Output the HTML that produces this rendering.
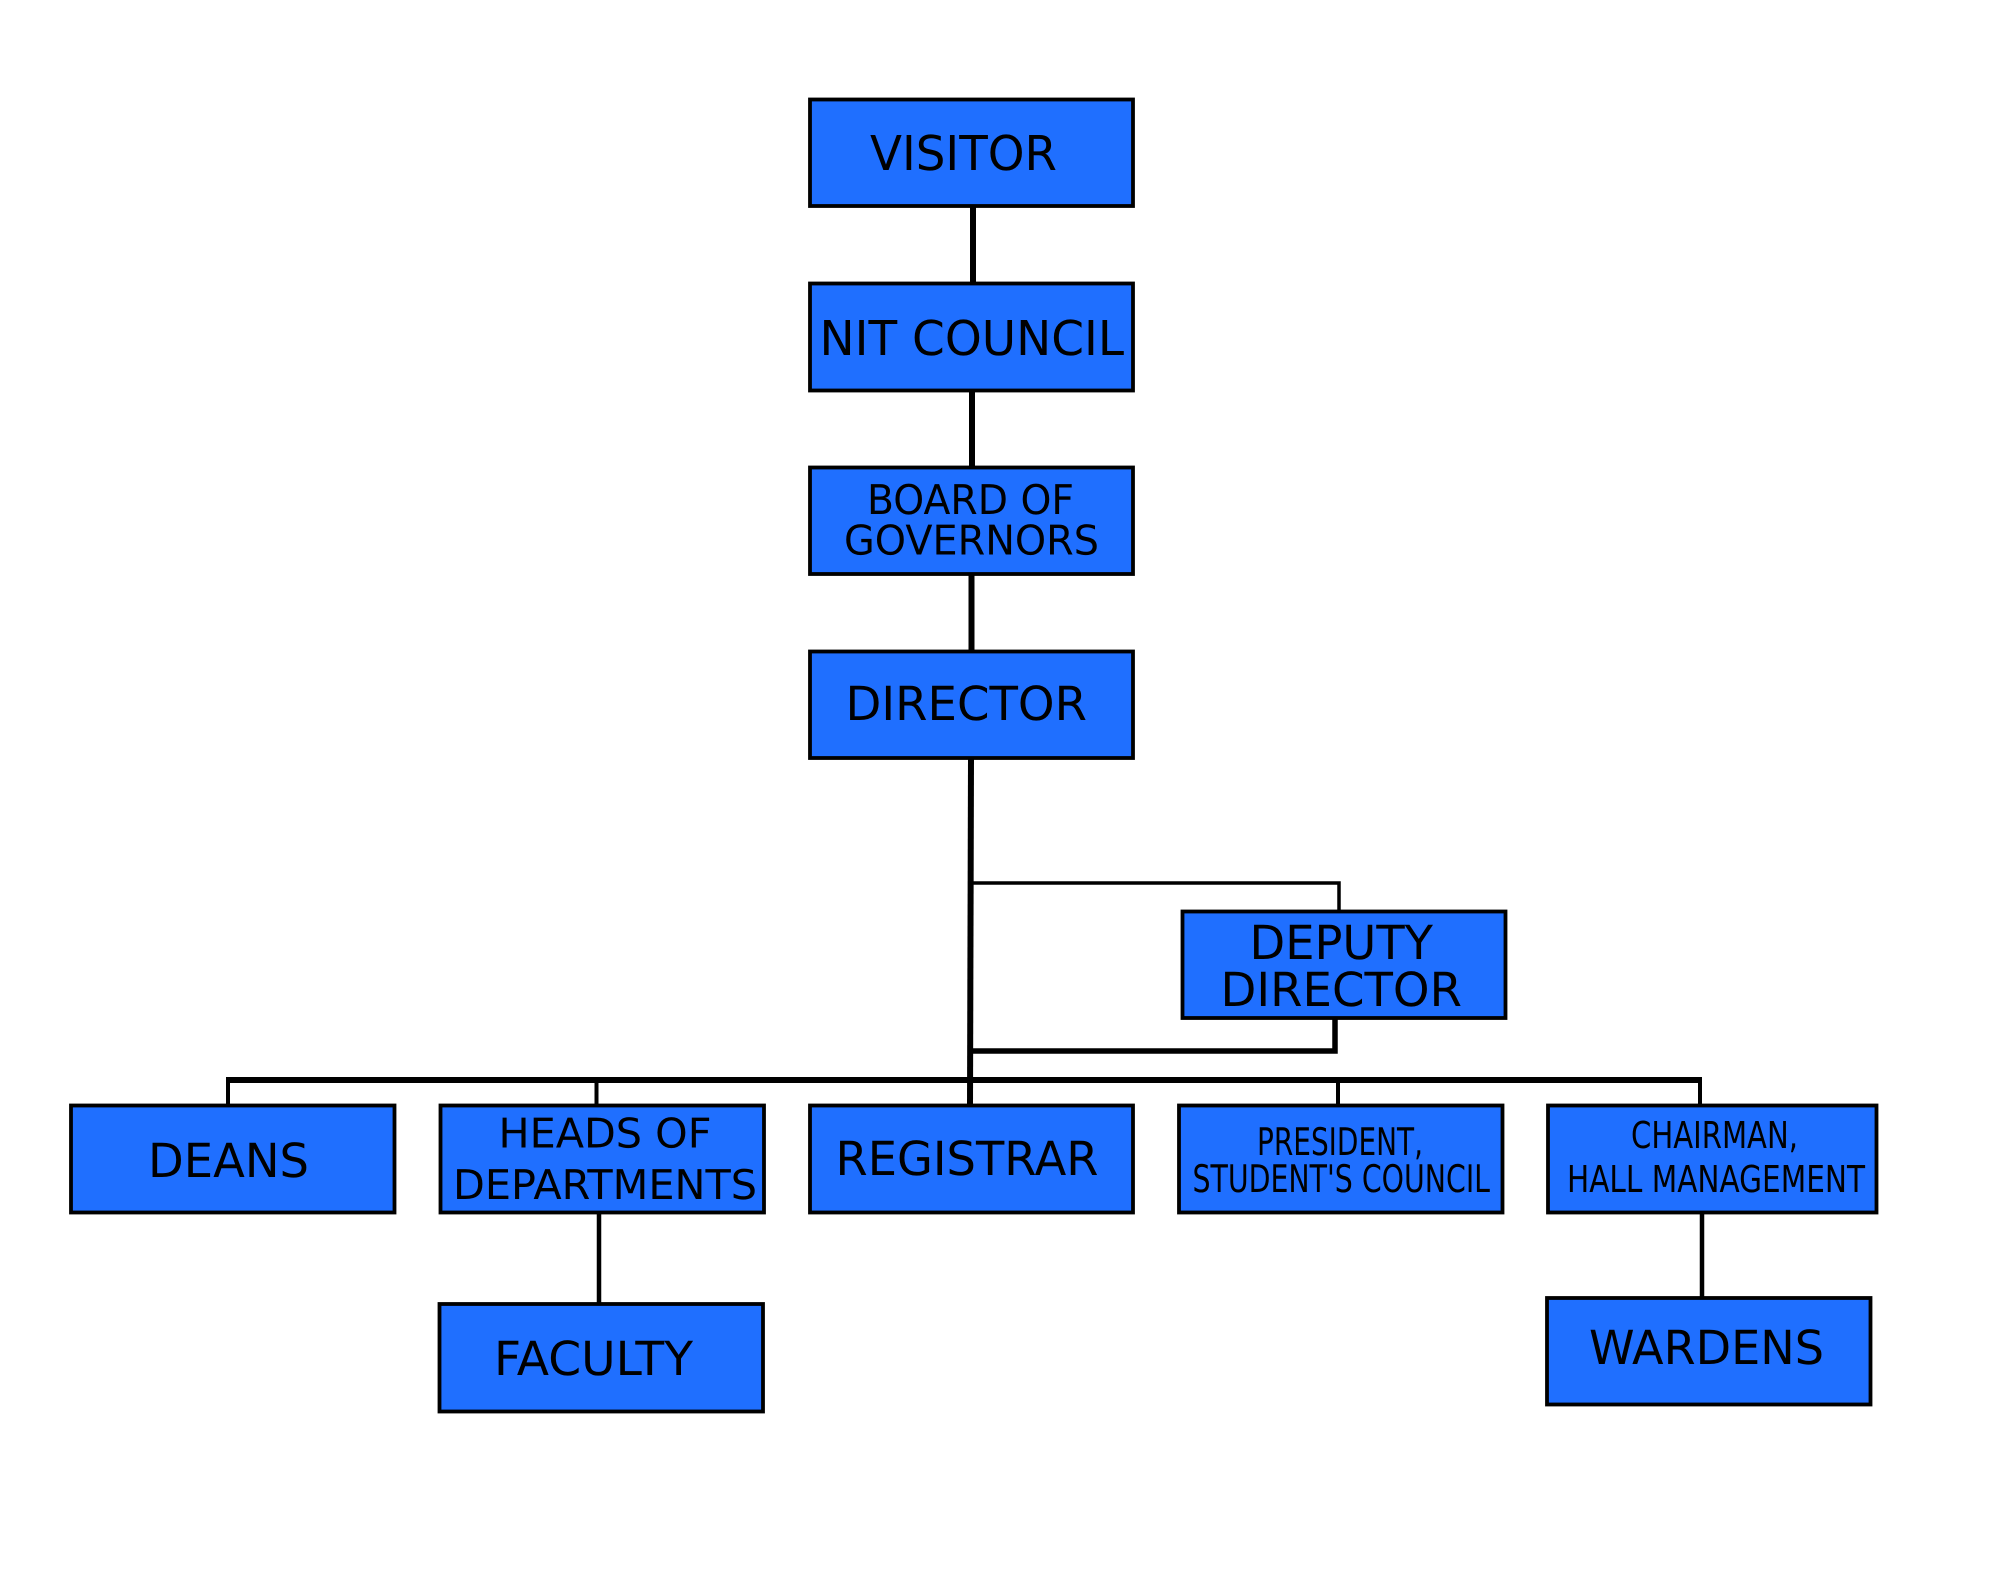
<!DOCTYPE html>
<html><head><meta charset="utf-8"><style>
html,body{margin:0;padding:0;background:#fff}
svg{display:block}
text{font-family:"DejaVu Sans",sans-serif;fill:#000;text-rendering:geometricPrecision}
rect{fill:#1f6fff;stroke:#000;stroke-width:3.8}
path{fill:none;stroke:#000}
</style></head><body>
<svg width="2000" height="1583" viewBox="0 0 2000 1583" xmlns="http://www.w3.org/2000/svg">
<rect x="0" y="0" width="2000" height="1583" style="fill:#fff;stroke:none"/>
<path stroke-width="6" d="M973 206L973 283"/>
<path stroke-width="6" d="M972 390L972 467"/>
<path stroke-width="6" d="M971.500 574L971.500 651"/>
<path stroke-width="6" d="M971 759L970 1105"/>
<path stroke-width="3.500" d="M971 883H1339V911"/>
<path stroke-width="5.500" d="M970 1051H1335V1018"/>
<path stroke-width="6" d="M226 1080H1702"/>
<path stroke-width="4" d="M228 1079V1105M596.500 1080V1105M1338 1080V1105M1700 1079V1105"/>
<path stroke-width="4.500" d="M599 1213V1304M1702 1213V1298"/>
<rect x="810" y="99.500" width="323" height="106.500"/>
<rect x="810" y="283.500" width="323" height="107"/>
<rect x="810" y="467.500" width="323" height="106.500"/>
<rect x="810" y="651.500" width="323" height="106.500"/>
<rect x="1182.500" y="911.500" width="323" height="106.500"/>
<rect x="71" y="1105.500" width="323.500" height="107"/>
<rect x="440.500" y="1105.500" width="323.500" height="107"/>
<rect x="810" y="1105.500" width="323" height="107"/>
<rect x="1179" y="1105.500" width="323.500" height="107"/>
<rect x="1548" y="1105.500" width="328.500" height="107"/>
<rect x="439.500" y="1304" width="323.500" height="107.500"/>
<rect x="1547" y="1298" width="323.500" height="106.500"/>
<text x="870" y="170" font-size="48" textLength="187" lengthAdjust="spacingAndGlyphs">VISITOR</text>
<text x="819.500" y="355" font-size="48" textLength="304.500" lengthAdjust="spacingAndGlyphs">NIT COUNCIL</text>
<text x="867" y="514" font-size="41" textLength="207" lengthAdjust="spacingAndGlyphs">BOARD OF</text>
<text x="844" y="554.500" font-size="41" textLength="255" lengthAdjust="spacingAndGlyphs">GOVERNORS</text>
<text x="845.500" y="720" font-size="47" textLength="241.500" lengthAdjust="spacingAndGlyphs">DIRECTOR</text>
<text x="1249.500" y="959" font-size="47" textLength="183.500" lengthAdjust="spacingAndGlyphs">DEPUTY</text>
<text x="1220.500" y="1006" font-size="47" textLength="241.500" lengthAdjust="spacingAndGlyphs">DIRECTOR</text>
<text x="148" y="1177" font-size="47" textLength="161" lengthAdjust="spacingAndGlyphs">DEANS</text>
<text x="498.500" y="1147.500" font-size="41" textLength="213" lengthAdjust="spacingAndGlyphs">HEADS OF</text>
<text x="453" y="1199" font-size="41" textLength="304" lengthAdjust="spacingAndGlyphs">DEPARTMENTS</text>
<text x="835.500" y="1175" font-size="47" textLength="263" lengthAdjust="spacingAndGlyphs">REGISTRAR</text>
<text x="1257" y="1155" font-size="38" textLength="166" lengthAdjust="spacingAndGlyphs">PRESIDENT,</text>
<text x="1192.500" y="1192" font-size="38" textLength="297.500" lengthAdjust="spacingAndGlyphs">STUDENT'S COUNCIL</text>
<text x="1631" y="1148" font-size="37" textLength="167" lengthAdjust="spacingAndGlyphs">CHAIRMAN,</text>
<text x="1567" y="1192" font-size="37" textLength="298" lengthAdjust="spacingAndGlyphs">HALL MANAGEMENT</text>
<text x="494" y="1375" font-size="47" textLength="199" lengthAdjust="spacingAndGlyphs">FACULTY</text>
<text x="1589" y="1364" font-size="47" textLength="235" lengthAdjust="spacingAndGlyphs">WARDENS</text>
</svg>
</body></html>
